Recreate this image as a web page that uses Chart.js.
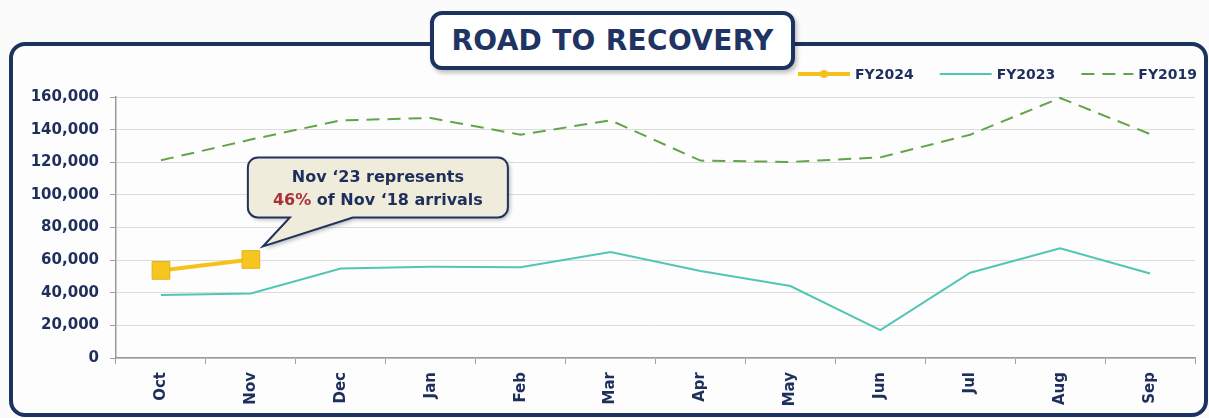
<!DOCTYPE html>
<html>
<head>
<meta charset="utf-8">
<script src="https://cdn.jsdelivr.net/npm/chart.js@4/dist/chart.umd.min.js"></script>
<style>
  html, body { margin: 0; padding: 0; background: #fbfbfb; }
  #wrap { position: relative; width: 1209px; height: 418px; overflow: hidden; }
  #frame {
    position: absolute; left: 9px; top: 42px; width: 1191px; height: 367px;
    border: 4px solid #1c335f; border-radius: 16px; background: #fdfdfd;
  }
  #title {
    position: absolute; left: 430px; top: 11px; width: 357px; height: 51px;
    border: 4px solid #1c335f; border-radius: 12px; background: #fff;
    box-shadow: 2px 3px 4px rgba(0,0,0,0.25);
    font: bold 28px "DejaVu Sans", sans-serif; color: #1f3462;
    text-align: center; line-height: 51px; letter-spacing: 0.3px;
  }
  #chartBox { position: absolute; left: 0; top: 0; width: 1209px; height: 418px; }
</style>
</head>
<body>
<div id="wrap">
  <div id="frame"></div>
  <div id="title">ROAD TO RECOVERY</div>
  <div id="chartBox"><canvas id="roadChart"></canvas></div>
</div>
<script>
const months = ["Oct", "Nov", "Dec", "Jan", "Feb", "Mar", "Apr", "May", "Jun", "Jul", "Aug", "Sep"];
const fy2024 = [53700, 60400, null, null, null, null, null, null, null, null, null, null];
const fy2023 = [38600, 39600, 54900, 55900, 55700, 64900, 53300, 44100, 17100, 52300, 67300, 51800];
const fy2019 = [121200, 133900, 145700, 147100, 136900, 145700, 121000, 120200, 123000, 136900, 159400, 137300];
const yTicks = [0, 20000, 40000, 60000, 80000, 100000, 120000, 140000, 160000];

const NAVY = "#1f2f5c";
const FONT = '"DejaVu Sans", sans-serif';

// legend drawn by hand so the FY2024 entry gets its little dot
const legendPlugin = {
  id: "customLegend",
  afterDraw(chart) {
    const ctx = chart.ctx;
    const y = 74;
    let x = 798;
    ctx.save();
    ctx.font = "bold 14px " + FONT;
    ctx.textBaseline = "middle";
    chart.data.datasets.forEach((ds) => {
      ctx.strokeStyle = ds.borderColor;
      ctx.lineWidth = ds.legendWidth;
      ctx.setLineDash(ds.borderDash || []);
      ctx.beginPath();
      ctx.moveTo(x, y);
      ctx.lineTo(x + 52, y);
      ctx.stroke();
      ctx.setLineDash([]);
      if (ds.label === "FY2024") {
        ctx.fillStyle = ds.borderColor;
        ctx.beginPath();
        ctx.arc(x + 26, y, 4, 0, Math.PI * 2);
        ctx.fill();
      }
      ctx.fillStyle = NAVY;
      ctx.fillText(ds.label, x + 57, y + 1);
      x += 57 + ctx.measureText(ds.label).width + 26;
    });
    ctx.restore();
  },
};

// speech bubble pointing at the Nov FY2024 point
const calloutPlugin = {
  id: "callout",
  afterDatasetsDraw(chart) {
    const ctx = chart.ctx;
    const xs = chart.scales.x, ys = chart.scales.y;
    const tipX = xs.getPixelForValue(1) + 12;
    const tipY = ys.getPixelForValue(fy2024[1]) - 13;
    const bx = tipX - 15, by = tipY - 89, bw = 260, bh = 60, r = 10;
    ctx.save();
    ctx.shadowColor = "rgba(0,0,0,0.3)";
    ctx.shadowBlur = 4;
    ctx.shadowOffsetX = 2;
    ctx.shadowOffsetY = 2;
    ctx.beginPath();
    ctx.moveTo(bx + r, by);
    ctx.lineTo(bx + bw - r, by);
    ctx.arcTo(bx + bw, by, bx + bw, by + r, r);
    ctx.lineTo(bx + bw, by + bh - r);
    ctx.arcTo(bx + bw, by + bh, bx + bw - r, by + bh, r);
    ctx.lineTo(bx + 105, by + bh);
    ctx.lineTo(tipX, tipY);
    ctx.lineTo(bx + 42, by + bh);
    ctx.lineTo(bx + r, by + bh);
    ctx.arcTo(bx, by + bh, bx, by + bh - r, r);
    ctx.lineTo(bx, by + r);
    ctx.arcTo(bx, by, bx + r, by, r);
    ctx.closePath();
    ctx.fillStyle = "#f0ecdb";
    ctx.fill();
    ctx.shadowColor = "transparent";
    ctx.strokeStyle = "#22325e";
    ctx.lineWidth = 2;
    ctx.stroke();

    const cx = bx + bw / 2;
    ctx.font = "bold 16px " + FONT;
    ctx.textBaseline = "middle";
    ctx.textAlign = "center";
    ctx.fillStyle = NAVY;
    ctx.fillText("Nov \u201823 represents", cx, by + 20);
    const red = "46%";
    const rest = " of Nov \u201818 arrivals";
    const w1 = ctx.measureText(red).width, w2 = ctx.measureText(rest).width;
    const start = cx - (w1 + w2) / 2;
    ctx.textAlign = "left";
    ctx.fillStyle = "#a8323a";
    ctx.fillText(red, start, by + 43);
    ctx.fillStyle = NAVY;
    ctx.fillText(rest, start + w1, by + 43);
    ctx.restore();
  },
};

new Chart(document.getElementById("roadChart"), {
  type: "line",
  data: {
    labels: months,
    datasets: [
      {
        label: "FY2024",
        data: fy2024,
        borderColor: "#f5c21b",
        backgroundColor: "#f7c51f",
        borderWidth: 4,
        legendWidth: 4,
        pointStyle: "rect",
        pointRadius: 12.5,
        pointBorderColor: "#e4b21a",
        pointBorderWidth: 1,
        order: 0,
      },
      {
        label: "FY2023",
        data: fy2023,
        borderColor: "#52c6b5",
        borderWidth: 2,
        legendWidth: 2,
        pointRadius: 0,
        tension: 0,
        order: 1,
      },
      {
        label: "FY2019",
        data: fy2019,
        borderColor: "#62a548",
        borderWidth: 2,
        legendWidth: 2,
        borderDash: [13, 8],
        pointRadius: 0,
        tension: 0,
        order: 2,
      },
    ],
  },
  options: {
    responsive: true,
    maintainAspectRatio: false,
    animation: false,
    layout: { padding: { top: 97, right: 14, bottom: 0, left: 0 } },
    plugins: { legend: { display: false }, tooltip: { enabled: false } },
    scales: {
      x: {
        offset: true,
        grid: { offset: true, drawOnChartArea: false, tickLength: 6, color: "#a0a0a0" },
        border: { color: "#9a9a9a", width: 1.5 },
        ticks: {
          color: NAVY,
          font: { family: FONT, weight: "bold", size: 15 },
          minRotation: 90,
          maxRotation: 90,
          padding: 8,
        },
        afterFit(scale) { scale.height = 60; },
      },
      y: {
        min: 0,
        max: 160000,
        afterBuildTicks(scale) { scale.ticks = yTicks.map((v) => ({ value: v })); },
        grid: { color: "#dcdcdc", tickLength: 6, tickColor: "#a0a0a0" },
        border: { color: "#9a9a9a", width: 1.5 },
        ticks: {
          color: NAVY,
          font: { family: FONT, weight: "bold", size: 15 },
          padding: 11,
          callback: (v) => v.toLocaleString("en-US"),
        },
        afterFit(scale) { scale.width = 116; },
      },
    },
  },
  plugins: [legendPlugin, calloutPlugin],
});
</script>
</body>
</html>
